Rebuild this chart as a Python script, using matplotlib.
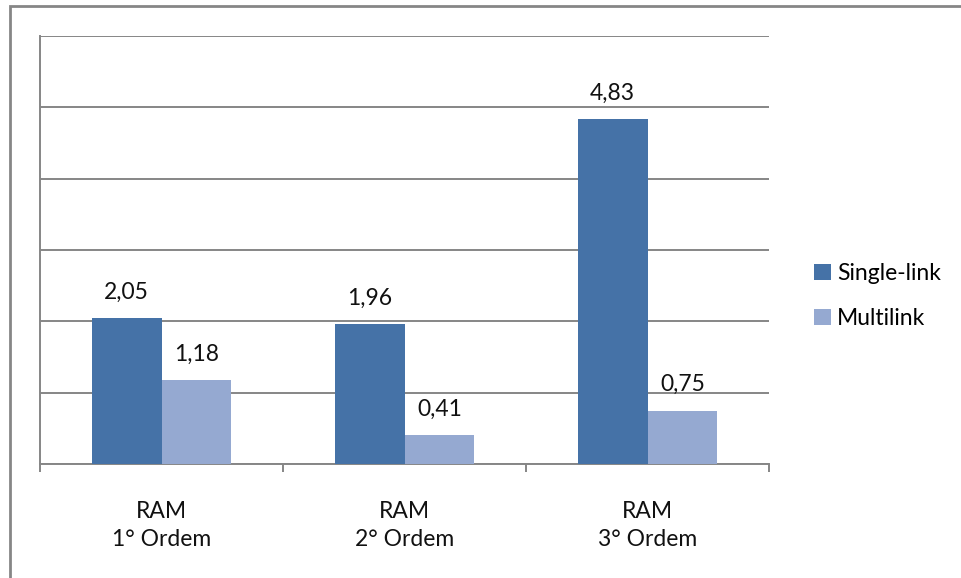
import matplotlib.pyplot as plt
import matplotlib.patches as patches
import numpy as np

categories = ['RAM\n1° Ordem', 'RAM\n2° Ordem', 'RAM\n3° Ordem']
series_names = ['Single-link', 'Multilink']
single_link = [2.05, 1.96, 4.83]
multilink = [1.18, 0.41, 0.75]

colors = ['#4572A7', '#95A9D1']
grid_color = '#868686'

plt.rcParams['font.family'] = ['Lato', 'DejaVu Sans']

fig = plt.figure(figsize=(9.61, 5.78), dpi=100)
ax = fig.add_axes([40 / 961, 1 - 464 / 578, 729 / 961, 428 / 578])

x = np.arange(len(categories))
w = 0.288
b1 = ax.bar(x - w / 2, single_link, w, color=colors[0], label=series_names[0], zorder=3)
b2 = ax.bar(x + w / 2, multilink, w, color=colors[1], label=series_names[1], zorder=3)

for bars, vals in [(b1, single_link), (b2, multilink)]:
    for bar, v in zip(bars, vals):
        ax.annotate(f'{v:.2f}'.replace('.', ','),
                    (bar.get_x() + bar.get_width() / 2, v),
                    xytext=(0, 11), textcoords='offset points',
                    ha='center', va='bottom', fontsize=16.5, color='#111111')

ax.set_xlim(-0.5, 2.5)
ax.set_ylim(0, 6)
ax.set_yticks(np.arange(0, 7))
ax.set_yticklabels([])
ax.tick_params(axis='y', length=0)
ax.grid(axis='y', color=grid_color, lw=1.4, zorder=0)

ax.set_xticks(x)
ax.set_xticklabels(categories, fontsize=16.5, linespacing=1.4, color='#111111')
ax.set_xticks([-0.5, 0.5, 1.5, 2.5], minor=True)
ax.tick_params(axis='x', which='major', length=0, pad=27)
ax.tick_params(axis='x', which='minor', length=6, width=1.4, color=grid_color)

for s in ['top', 'right']:
    ax.spines[s].set_visible(False)
for s in ['left', 'bottom']:
    ax.spines[s].set_color(grid_color)
    ax.spines[s].set_linewidth(1.4)

ax.legend(loc='center left', bbox_to_anchor=(805 / 961, 1 - 296 / 578),
          bbox_transform=fig.transFigure, frameon=False, fontsize=16.5,
          handlelength=0.75, handleheight=0.75, handletextpad=0.25,
          labelspacing=1.05, borderaxespad=0)

# outer chart border
fig.add_artist(patches.Rectangle((10 / 961, -0.1), 1.2, 1.1 - 6 / 578,
                                 transform=fig.transFigure, fill=False,
                                 edgecolor=grid_color, lw=2))

plt.savefig('out.png', dpi=100)
